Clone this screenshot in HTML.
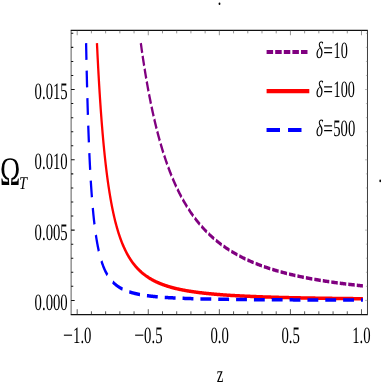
<!DOCTYPE html>
<html><head><meta charset="utf-8"><title>plot</title>
<style>html,body{margin:0;padding:0;background:#fff;}svg{display:block;}text{font-family:"Liberation Serif",serif;fill:#000;text-rendering:geometricPrecision;}</style>
</head><body>
<svg width="382" height="382" viewBox="0 0 382 382">
<rect x="0" y="0" width="382" height="382" fill="#ffffff"/>
<g transform="scale(0.648,1)">
<path d="M217.31 43.10 L217.52 44.11 L217.80 45.41 L218.08 46.70 L218.35 47.99 L218.63 49.27 L218.91 50.54 L219.19 51.81 L219.47 53.07 L219.75 54.33 L220.04 55.58 L220.32 56.82 L220.60 58.06 L220.89 59.29 L221.17 60.51 L221.46 61.73 L221.75 62.95 L222.04 64.16 L222.33 65.36 L222.62 66.55 L222.91 67.74 L223.20 68.93 L223.49 70.11 L223.78 71.28 L224.08 72.45 L224.37 73.61 L224.67 74.76 L224.96 75.91 L225.26 77.06 L225.56 78.20 L225.86 79.33 L226.16 80.46 L226.46 81.58 L226.76 82.69 L227.06 83.81 L227.36 84.91 L227.67 86.01 L227.97 87.11 L228.28 88.20 L228.58 89.28 L228.89 90.36 L229.20 91.43 L229.51 92.50 L229.82 93.56 L230.13 94.62 L230.44 95.67 L230.75 96.72 L231.07 97.76 L231.38 98.80 L231.70 99.83 L232.01 100.86 L232.33 101.88 L232.65 102.90 L232.96 103.91 L233.28 104.92 L233.60 105.92 L233.93 106.92 L234.25 107.91 L234.57 108.90 L234.90 109.88 L235.22 110.86 L235.55 111.83 L235.87 112.80 L236.20 113.76 L236.53 114.72 L236.86 115.67 L237.19 116.62 L237.52 117.57 L237.85 118.51 L238.19 119.44 L238.52 120.37 L238.86 121.30 L239.19 122.22 L239.53 123.14 L239.87 124.05 L240.21 124.96 L240.55 125.86 L240.89 126.76 L241.23 127.65 L241.57 128.54 L241.92 129.43 L242.26 130.31 L242.61 131.18 L242.95 132.06 L243.30 132.93 L243.65 133.79 L244.00 134.65 L244.35 135.50 L244.70 136.35 L245.05 137.20 L245.41 138.04 L245.76 138.88 L246.12 139.72 L246.47 140.55 L246.83 141.37 L247.19 142.19 L247.55 143.01 L247.91 143.83 L248.27 144.64 L248.63 145.44 L249.00 146.24 L249.36 147.04 L249.73 147.83 L250.09 148.62 L250.46 149.41 L250.83 150.19 L251.20 150.97 L251.57 151.74 L251.94 152.51 L252.31 153.28 L252.69 154.04 L253.06 154.80 L253.44 155.56 L253.82 156.31 L254.19 157.06 L254.57 157.80 L254.95 158.54 L255.34 159.28 L255.72 160.01 L256.10 160.74 L256.49 161.46 L256.87 162.19 L257.26 162.90 L257.65 163.62 L258.03 164.33 L258.42 165.04 L258.82 165.74 L259.21 166.44 L259.60 167.14 L260.00 167.83 L260.39 168.52 L260.79 169.21 L261.19 169.89 L261.58 170.57 L261.98 171.25 L262.38 171.92 L262.79 172.59 L263.19 173.26 L263.59 173.92 L264.00 174.58 L264.41 175.24 L264.81 175.89 L265.22 176.54 L265.63 177.19 L266.05 177.83 L266.46 178.47 L266.87 179.11 L267.29 179.74 L267.70 180.37 L268.12 181.00 L268.54 181.62 L268.96 182.24 L269.38 182.86 L269.80 183.47 L270.22 184.09 L270.65 184.69 L271.07 185.30 L271.50 185.90 L271.93 186.50 L272.36 187.10 L272.79 187.69 L273.22 188.28 L273.65 188.87 L274.08 189.45 L274.52 190.03 L274.95 190.61 L275.39 191.19 L275.83 191.76 L276.27 192.33 L276.71 192.90 L277.15 193.46 L277.60 194.02 L278.04 194.58 L278.49 195.14 L278.94 195.69 L279.38 196.24 L279.83 196.79 L280.29 197.33 L280.74 197.87 L281.19 198.41 L281.65 198.95 L282.10 199.48 L282.56 200.01 L283.02 200.54 L283.48 201.07 L283.94 201.59 L284.40 202.11 L284.87 202.63 L285.33 203.14 L285.80 203.66 L286.27 204.16 L286.74 204.67 L287.21 205.18 L287.68 205.68 L288.15 206.18 L288.63 206.67 L289.10 207.17 L289.58 207.66 L290.06 208.15 L290.54 208.64 L291.02 209.12 L291.50 209.60 L291.99 210.08 L292.47 210.56 L292.96 211.04 L293.45 211.51 L293.93 211.98 L294.43 212.44 L294.92 212.91 L295.41 213.37 L295.91 213.83 L296.40 214.29 L296.90 214.75 L297.40 215.20 L297.90 215.65 L298.40 216.10 L298.90 216.55 L299.41 216.99 L299.92 217.43 L300.42 217.87 L300.93 218.31 L301.44 218.74 L301.95 219.18 L302.47 219.61 L302.98 220.04 L303.50 220.46 L304.02 220.89 L304.54 221.31 L305.06 221.73 L305.58 222.15 L306.10 222.56 L306.63 222.98 L307.15 223.39 L307.68 223.80 L308.21 224.20 L308.74 224.61 L309.27 225.01 L309.81 225.41 L310.34 225.81 L310.88 226.21 L311.42 226.60 L311.96 227.00 L312.50 227.39 L313.04 227.78 L313.59 228.16 L314.13 228.55 L314.68 228.93 L315.23 229.31 L315.78 229.69 L316.33 230.07 L316.88 230.44 L317.44 230.81 L318.00 231.19 L318.55 231.56 L319.11 231.92 L319.68 232.29 L320.24 232.65 L320.80 233.01 L321.37 233.37 L321.94 233.73 L322.51 234.09 L323.08 234.44 L323.65 234.79 L324.22 235.15 L324.80 235.49 L325.38 235.84 L325.96 236.19 L326.54 236.53 L327.12 236.87 L327.70 237.21 L328.29 237.55 L328.88 237.89 L329.46 238.22 L330.05 238.55 L330.65 238.89 L331.24 239.22 L331.84 239.54 L332.43 239.87 L333.03 240.19 L333.63 240.52 L334.23 240.84 L334.84 241.16 L335.44 241.48 L336.05 241.79 L336.66 242.11 L337.27 242.42 L337.88 242.73 L338.50 243.04 L339.11 243.35 L339.73 243.66 L340.35 243.96 L340.97 244.26 L341.59 244.57 L342.22 244.87 L342.85 245.16 L343.47 245.46 L344.10 245.76 L344.73 246.05 L345.37 246.34 L346.00 246.63 L346.64 246.92 L347.28 247.21 L347.92 247.50 L348.56 247.78 L349.21 248.07 L349.85 248.35 L350.50 248.63 L351.15 248.91 L351.80 249.19 L352.45 249.46 L353.11 249.74 L353.77 250.01 L354.42 250.28 L355.08 250.55 L355.75 250.82 L356.41 251.09 L357.08 251.36 L357.75 251.62 L358.42 251.89 L359.09 252.15 L359.76 252.41 L360.44 252.67 L361.11 252.93 L361.79 253.18 L362.47 253.44 L363.16 253.69 L363.84 253.95 L364.53 254.20 L365.22 254.45 L365.91 254.70 L366.60 254.94 L367.30 255.19 L367.99 255.44 L368.69 255.68 L369.39 255.92 L370.10 256.16 L370.80 256.40 L371.51 256.64 L372.22 256.88 L372.93 257.11 L373.64 257.35 L374.35 257.58 L375.07 257.82 L375.79 258.05 L376.51 258.28 L377.23 258.51 L377.96 258.73 L378.68 258.96 L379.41 259.18 L380.14 259.41 L380.87 259.63 L381.61 259.85 L382.35 260.07 L383.09 260.29 L383.83 260.51 L384.57 260.73 L385.31 260.94 L386.06 261.16 L386.81 261.37 L387.56 261.59 L388.32 261.80 L389.07 262.01 L389.83 262.22 L390.59 262.43 L391.35 262.63 L392.12 262.84 L392.88 263.04 L393.65 263.25 L394.42 263.45 L395.19 263.65 L395.97 263.85 L396.75 264.05 L397.53 264.25 L398.31 264.45 L399.09 264.64 L399.88 264.84 L400.67 265.03 L401.46 265.23 L402.25 265.42 L403.04 265.61 L403.84 265.80 L404.64 265.99 L405.44 266.18 L406.25 266.37 L407.05 266.55 L407.86 266.74 L408.67 266.92 L409.48 267.11 L410.30 267.29 L411.12 267.47 L411.94 267.65 L412.76 267.83 L413.58 268.01 L414.41 268.18 L415.24 268.36 L416.07 268.54 L416.90 268.71 L417.74 268.89 L418.58 269.06 L419.42 269.23 L420.26 269.40 L421.11 269.57 L421.95 269.74 L422.80 269.91 L423.66 270.08 L424.51 270.24 L425.37 270.41 L426.23 270.58 L427.09 270.74 L427.96 270.90 L428.82 271.06 L429.69 271.23 L430.56 271.39 L431.44 271.55 L432.31 271.70 L433.19 271.86 L434.08 272.02 L434.96 272.18 L435.85 272.33 L436.74 272.49 L437.63 272.64 L438.52 272.79 L439.42 272.95 L440.32 273.10 L441.22 273.25 L442.12 273.40 L443.03 273.55 L443.94 273.69 L444.85 273.84 L445.77 273.99 L446.68 274.13 L447.60 274.28 L448.52 274.42 L449.45 274.57 L450.38 274.71 L451.31 274.85 L452.24 274.99 L453.17 275.13 L454.11 275.27 L455.05 275.41 L456.00 275.55 L456.94 275.69 L457.89 275.83 L458.84 275.96 L459.79 276.10 L460.75 276.23 L461.71 276.37 L462.67 276.50 L463.64 276.63 L464.60 276.76 L465.57 276.89 L466.55 277.02 L467.52 277.15 L468.50 277.28 L469.48 277.41 L470.46 277.54 L471.45 277.67 L472.44 277.79 L473.43 277.92 L474.43 278.04 L475.42 278.17 L476.42 278.29 L477.43 278.41 L478.43 278.53 L479.44 278.66 L480.45 278.78 L481.47 278.90 L482.48 279.02 L483.50 279.14 L484.53 279.25 L485.55 279.37 L486.58 279.49 L487.61 279.61 L488.65 279.72 L489.69 279.84 L490.73 279.95 L491.77 280.06 L492.82 280.18 L493.86 280.29 L494.92 280.40 L495.97 280.51 L497.03 280.62 L498.09 280.74 L499.15 280.84 L500.22 280.95 L501.29 281.06 L502.36 281.17 L503.44 281.28 L504.52 281.38 L505.60 281.49 L506.69 281.60 L507.77 281.70 L508.86 281.81 L509.96 281.91 L511.06 282.01 L512.16 282.12 L513.26 282.22 L514.37 282.32 L515.48 282.42 L516.59 282.52 L517.70 282.62 L518.82 282.72 L519.95 282.82 L521.07 282.92 L522.20 283.02 L523.33 283.11 L524.47 283.21 L525.60 283.31 L526.74 283.40 L527.89 283.50 L529.04 283.59 L530.19 283.69 L531.34 283.78 L532.50 283.87 L533.66 283.97 L534.82 284.06 L535.99 284.15 L537.16 284.24 L538.33 284.33 L539.51 284.42 L540.69 284.51 L541.87 284.60 L543.06 284.69 L544.25 284.78 L545.44 284.87 L546.64 284.95 L547.84 285.04 L549.05 285.13 L550.25 285.21 L551.46 285.30 L552.68 285.38 L553.89 285.47 L555.11 285.55 L556.34 285.64 L557.57 285.72 L558.80 285.80 L560.03 285.88" fill="none" stroke="#800080" stroke-width="3.5" stroke-linejoin="round" stroke-dasharray="10.05 3.1"/>
<path d="M149.62 43.10 L149.76 45.10 L149.92 47.16 L150.07 49.21 L150.22 51.24 L150.37 53.26 L150.53 55.27 L150.68 57.26 L150.83 59.24 L150.99 61.21 L151.15 63.16 L151.30 65.11 L151.46 67.03 L151.62 68.95 L151.78 70.85 L151.94 72.74 L152.10 74.62 L152.27 76.49 L152.43 78.34 L152.59 80.18 L152.76 82.01 L152.92 83.82 L153.09 85.62 L153.26 87.41 L153.42 89.19 L153.59 90.96 L153.76 92.71 L153.93 94.45 L154.10 96.18 L154.27 97.90 L154.45 99.60 L154.62 101.29 L154.80 102.97 L154.97 104.64 L155.15 106.30 L155.32 107.95 L155.50 109.58 L155.68 111.20 L155.86 112.81 L156.04 114.41 L156.22 116.00 L156.41 117.57 L156.59 119.14 L156.77 120.69 L156.96 122.23 L157.14 123.76 L157.33 125.28 L157.52 126.79 L157.71 128.29 L157.90 129.77 L158.09 131.25 L158.28 132.71 L158.47 134.16 L158.67 135.61 L158.86 137.04 L159.06 138.46 L159.25 139.87 L159.45 141.27 L159.65 142.66 L159.85 144.03 L160.05 145.40 L160.25 146.76 L160.45 148.11 L160.65 149.44 L160.86 150.77 L161.06 152.09 L161.27 153.39 L161.48 154.69 L161.68 155.98 L161.89 157.25 L162.10 158.52 L162.32 159.78 L162.53 161.03 L162.74 162.26 L162.96 163.49 L163.17 164.71 L163.39 165.92 L163.61 167.12 L163.82 168.31 L164.04 169.49 L164.26 170.66 L164.49 171.82 L164.71 172.97 L164.93 174.12 L165.16 175.25 L165.39 176.37 L165.61 177.49 L165.84 178.60 L166.07 179.70 L166.30 180.79 L166.53 181.87 L166.77 182.94 L167.00 184.00 L167.24 185.06 L167.47 186.10 L167.71 187.14 L167.95 188.17 L168.19 189.19 L168.43 190.20 L168.67 191.21 L168.92 192.20 L169.16 193.19 L169.41 194.17 L169.66 195.14 L169.90 196.11 L170.15 197.06 L170.40 198.01 L170.66 198.95 L170.91 199.88 L171.16 200.81 L171.42 201.72 L171.68 202.63 L171.94 203.53 L172.20 204.43 L172.46 205.31 L172.72 206.19 L172.98 207.06 L173.25 207.92 L173.51 208.78 L173.78 209.63 L174.05 210.47 L174.32 211.31 L174.59 212.14 L174.86 212.96 L175.14 213.77 L175.41 214.58 L175.69 215.38 L175.97 216.17 L176.25 216.96 L176.53 217.74 L176.81 218.51 L177.10 219.27 L177.38 220.03 L177.67 220.79 L177.95 221.53 L178.24 222.27 L178.53 223.01 L178.83 223.73 L179.12 224.45 L179.42 225.17 L179.71 225.88 L180.01 226.58 L180.31 227.27 L180.61 227.96 L180.91 228.65 L181.22 229.33 L181.52 230.00 L181.83 230.66 L182.14 231.32 L182.45 231.98 L182.76 232.63 L183.07 233.27 L183.39 233.90 L183.70 234.54 L184.02 235.16 L184.34 235.78 L184.66 236.40 L184.98 237.01 L185.30 237.61 L185.63 238.21 L185.96 238.80 L186.29 239.39 L186.62 239.97 L186.95 240.55 L187.28 241.12 L187.62 241.68 L187.95 242.25 L188.29 242.80 L188.63 243.35 L188.97 243.90 L189.32 244.44 L189.66 244.98 L190.01 245.51 L190.36 246.04 L190.71 246.56 L191.06 247.07 L191.41 247.59 L191.77 248.09 L192.13 248.60 L192.49 249.10 L192.85 249.59 L193.21 250.08 L193.57 250.56 L193.94 251.04 L194.31 251.52 L194.68 251.99 L195.05 252.46 L195.42 252.92 L195.80 253.38 L196.17 253.84 L196.55 254.29 L196.93 254.73 L197.32 255.17 L197.70 255.61 L198.09 256.04 L198.48 256.47 L198.87 256.90 L199.26 257.32 L199.65 257.74 L200.05 258.15 L200.45 258.56 L200.85 258.97 L201.25 259.37 L201.65 259.77 L202.06 260.17 L202.47 260.56 L202.87 260.94 L203.29 261.33 L203.70 261.71 L204.12 262.08 L204.53 262.46 L204.95 262.83 L205.38 263.19 L205.80 263.56 L206.23 263.91 L206.66 264.27 L207.09 264.62 L207.52 264.97 L207.95 265.32 L208.39 265.66 L208.83 266.00 L209.27 266.33 L209.71 266.67 L210.16 267.00 L210.61 267.32 L211.06 267.65 L211.51 267.97 L211.96 268.28 L212.42 268.60 L212.88 268.91 L213.34 269.22 L213.80 269.52 L214.27 269.82 L214.74 270.12 L215.21 270.42 L215.68 270.71 L216.15 271.00 L216.63 271.29 L217.11 271.58 L217.59 271.86 L218.08 272.14 L218.56 272.42 L219.05 272.69 L219.54 272.96 L220.04 273.23 L220.53 273.50 L221.03 273.76 L221.53 274.02 L222.04 274.28 L222.54 274.54 L223.05 274.79 L223.56 275.04 L224.08 275.29 L224.59 275.54 L225.11 275.78 L225.63 276.02 L226.16 276.26 L226.68 276.50 L227.21 276.73 L227.74 276.97 L228.28 277.20 L228.81 277.42 L229.35 277.65 L229.90 277.87 L230.44 278.09 L230.99 278.31 L231.54 278.53 L232.09 278.74 L232.65 278.96 L233.20 279.17 L233.77 279.38 L234.33 279.58 L234.90 279.79 L235.46 279.99 L236.04 280.19 L236.61 280.39 L237.19 280.58 L237.77 280.78 L238.35 280.97 L238.94 281.16 L239.53 281.35 L240.12 281.54 L240.72 281.72 L241.31 281.91 L241.92 282.09 L242.52 282.27 L243.13 282.44 L243.74 282.62 L244.35 282.79 L244.96 282.97 L245.58 283.14 L246.21 283.31 L246.83 283.48 L247.46 283.64 L248.09 283.81 L248.72 283.97 L249.36 284.13 L250.00 284.29 L250.65 284.45 L251.29 284.60 L251.94 284.76 L252.59 284.91 L253.25 285.06 L253.91 285.21 L254.57 285.36 L255.24 285.51 L255.91 285.65 L256.58 285.80 L257.26 285.94 L257.94 286.08 L258.62 286.22 L259.31 286.36 L260.00 286.50 L260.69 286.63 L261.38 286.77 L262.08 286.90 L262.79 287.03 L263.49 287.16 L264.20 287.29 L264.92 287.42 L265.63 287.55 L266.35 287.67 L267.08 287.80 L267.81 287.92 L268.54 288.04 L269.27 288.16 L270.01 288.28 L270.75 288.40 L271.50 288.51 L272.25 288.63 L273.00 288.74 L273.76 288.86 L274.52 288.97 L275.28 289.08 L276.05 289.19 L276.82 289.30 L277.60 289.41 L278.38 289.51 L279.16 289.62 L279.95 289.72 L280.74 289.83 L281.53 289.93 L282.33 290.03 L283.13 290.13 L283.94 290.23 L284.75 290.33 L285.57 290.43 L286.38 290.52 L287.21 290.62 L288.03 290.71 L288.86 290.81 L289.70 290.90 L290.54 290.99 L291.38 291.08 L292.23 291.17 L293.08 291.26 L293.93 291.35 L294.79 291.43 L295.66 291.52 L296.53 291.61 L297.40 291.69 L298.28 291.77 L299.16 291.86 L300.04 291.94 L300.93 292.02 L301.83 292.10 L302.72 292.18 L303.63 292.26 L304.54 292.34 L305.45 292.41 L306.36 292.49 L307.28 292.57 L308.21 292.64 L309.14 292.71 L310.07 292.79 L311.01 292.86 L311.96 292.93 L312.90 293.00 L313.86 293.07 L314.82 293.14 L315.78 293.21 L316.75 293.28 L317.72 293.35 L318.69 293.41 L319.68 293.48 L320.66 293.55 L321.65 293.61 L322.65 293.68 L323.65 293.74 L324.66 293.80 L325.67 293.86 L326.68 293.93 L327.70 293.99 L328.73 294.05 L329.76 294.11 L330.80 294.17 L331.84 294.23 L332.88 294.28 L333.93 294.34 L334.99 294.40 L336.05 294.45 L337.12 294.51 L338.19 294.57 L339.27 294.62 L340.35 294.67 L341.44 294.73 L342.53 294.78 L343.63 294.83 L344.73 294.88 L345.84 294.94 L346.96 294.99 L348.08 295.04 L349.21 295.09 L350.34 295.14 L351.47 295.19 L352.62 295.23 L353.77 295.28 L354.92 295.33 L356.08 295.38 L357.24 295.42 L358.42 295.47 L359.59 295.51 L360.78 295.56 L361.96 295.60 L363.16 295.65 L364.36 295.69 L365.56 295.74 L366.78 295.78 L367.99 295.82 L369.22 295.86 L370.45 295.90 L371.68 295.95 L372.93 295.99 L374.17 296.03 L375.43 296.07 L376.69 296.11 L377.96 296.15 L379.23 296.18 L380.51 296.22 L381.79 296.26 L383.09 296.30 L384.38 296.33 L385.69 296.37 L387.00 296.41 L388.32 296.44 L389.64 296.48 L390.97 296.52 L392.31 296.55 L393.65 296.59 L395.00 296.62 L396.36 296.65 L397.72 296.69 L399.09 296.72 L400.47 296.75 L401.85 296.79 L403.24 296.82 L404.64 296.85 L406.04 296.88 L407.46 296.91 L408.87 296.94 L410.30 296.98 L411.73 297.01 L413.17 297.04 L414.62 297.07 L416.07 297.10 L417.53 297.12 L419.00 297.15 L420.47 297.18 L421.95 297.21 L423.44 297.24 L424.94 297.27 L426.44 297.29 L427.96 297.32 L429.47 297.35 L431.00 297.38 L432.53 297.40 L434.08 297.43 L435.62 297.45 L437.18 297.48 L438.75 297.51 L440.32 297.53 L441.90 297.56 L443.48 297.58 L445.08 297.60 L446.68 297.63 L448.29 297.65 L449.91 297.68 L451.54 297.70 L453.17 297.72 L454.82 297.75 L456.47 297.77 L458.13 297.79 L459.79 297.81 L461.47 297.84 L463.15 297.86 L464.85 297.88 L466.55 297.90 L468.25 297.92 L469.97 297.94 L471.70 297.96 L473.43 297.98 L475.17 298.01 L476.92 298.03 L478.68 298.05 L480.45 298.07 L482.23 298.09 L484.02 298.10 L485.81 298.12 L487.61 298.14 L489.43 298.16 L491.25 298.18 L493.08 298.20 L494.92 298.22 L496.76 298.24 L498.62 298.25 L500.49 298.27 L502.36 298.29 L504.25 298.31 L506.14 298.32 L508.05 298.34 L509.96 298.36 L511.88 298.37 L513.81 298.39 L515.75 298.41 L517.70 298.42 L519.66 298.44 L521.63 298.46 L523.61 298.47 L525.60 298.49 L527.60 298.50 L529.61 298.52 L531.63 298.53 L533.66 298.55 L535.70 298.56 L537.75 298.58 L539.81 298.59 L541.87 298.61 L543.95 298.62 L546.04 298.64 L548.14 298.65 L550.25 298.66 L552.37 298.68 L554.50 298.69 L556.64 298.71 L558.80 298.72 L560.03 298.73" fill="none" stroke="#ff0000" stroke-width="3.5" stroke-linejoin="round"/>
<path d="M132.87 43.10 L132.95 45.82 L133.04 48.62 L133.13 51.39 L133.21 54.14 L133.30 56.85 L133.39 59.55 L133.48 62.21 L133.57 64.85 L133.67 67.46 L133.76 70.04 L133.85 72.60 L133.94 75.13 L134.04 77.64 L134.13 80.12 L134.23 82.58 L134.32 85.01 L134.42 87.41 L134.51 89.80 L134.61 92.15 L134.71 94.49 L134.81 96.80 L134.91 99.08 L135.01 101.34 L135.11 103.58 L135.21 105.80 L135.31 107.99 L135.41 110.16 L135.52 112.31 L135.62 114.44 L135.72 116.54 L135.83 118.62 L135.93 120.68 L136.04 122.72 L136.15 124.74 L136.25 126.73 L136.36 128.71 L136.47 130.66 L136.58 132.60 L136.69 134.51 L136.80 136.40 L136.92 138.28 L137.03 140.13 L137.14 141.97 L137.25 143.78 L137.37 145.58 L137.49 147.35 L137.60 149.11 L137.72 150.85 L137.84 152.57 L137.95 154.27 L138.07 155.95 L138.19 157.62 L138.31 159.27 L138.43 160.90 L138.56 162.51 L138.68 164.11 L138.80 165.68 L138.93 167.24 L139.05 168.79 L139.18 170.32 L139.31 171.83 L139.43 173.32 L139.56 174.80 L139.69 176.26 L139.82 177.71 L139.95 179.14 L140.08 180.56 L140.22 181.96 L140.35 183.34 L140.48 184.71 L140.62 186.06 L140.76 187.40 L140.89 188.73 L141.03 190.04 L141.17 191.33 L141.31 192.61 L141.45 193.88 L141.59 195.14 L141.73 196.37 L141.87 197.60 L142.02 198.81 L142.16 200.01 L142.31 201.20 L142.46 202.37 L142.60 203.53 L142.75 204.67 L142.90 205.81 L143.05 206.93 L143.20 208.04 L143.35 209.13 L143.51 210.22 L143.66 211.29 L143.82 212.35 L143.97 213.39 L144.13 214.43 L144.29 215.45 L144.45 216.47 L144.61 217.47 L144.77 218.46 L144.93 219.44 L145.09 220.40 L145.26 221.36 L145.42 222.31 L145.59 223.24 L145.76 224.17 L145.93 225.08 L146.10 225.98 L146.27 226.88 L146.44 227.76 L146.61 228.63 L146.79 229.49 L146.96 230.35 L147.14 231.19 L147.31 232.02 L147.49 232.85 L147.67 233.66 L147.85 234.47 L148.03 235.26 L148.22 236.05 L148.40 236.83 L148.59 237.60 L148.77 238.36 L148.96 239.11 L149.15 239.85 L149.34 240.58 L149.53 241.31 L149.72 242.03 L149.92 242.73 L150.11 243.44 L150.31 244.13 L150.50 244.81 L150.70 245.49 L150.90 246.16 L151.10 246.82 L151.30 247.47 L151.51 248.11 L151.71 248.75 L151.92 249.38 L152.13 250.00 L152.34 250.62 L152.55 251.23 L152.76 251.83 L152.97 252.42 L153.18 253.01 L153.40 253.59 L153.62 254.16 L153.83 254.73 L154.05 255.29 L154.27 255.84 L154.50 256.39 L154.72 256.93 L154.95 257.46 L155.17 257.99 L155.40 258.51 L155.63 259.03 L155.86 259.54 L156.09 260.04 L156.33 260.54 L156.56 261.03 L156.80 261.51 L157.04 261.99 L157.28 262.47 L157.52 262.93 L157.76 263.40 L158.01 263.85 L158.25 264.30 L158.50 264.75 L158.75 265.19 L159.00 265.63 L159.25 266.06 L159.51 266.48 L159.76 266.90 L160.02 267.32 L160.28 267.73 L160.54 268.13 L160.80 268.53 L161.06 268.93 L161.33 269.32 L161.60 269.70 L161.86 270.08 L162.13 270.46 L162.41 270.83 L162.68 271.20 L162.96 271.56 L163.23 271.92 L163.51 272.28 L163.79 272.63 L164.08 272.97 L164.36 273.31 L164.65 273.65 L164.93 273.98 L165.22 274.31 L165.52 274.64 L165.81 274.96 L166.10 275.28 L166.40 275.59 L166.70 275.90 L167.00 276.21 L167.30 276.51 L167.61 276.81 L167.92 277.10 L168.22 277.39 L168.54 277.68 L168.85 277.96 L169.16 278.25 L169.48 278.52 L169.80 278.80 L170.12 279.07 L170.44 279.33 L170.77 279.60 L171.09 279.86 L171.42 280.12 L171.75 280.37 L172.08 280.62 L172.42 280.87 L172.76 281.11 L173.10 281.36 L173.44 281.60 L173.78 281.83 L174.13 282.06 L174.48 282.29 L174.83 282.52 L175.18 282.75 L175.53 282.97 L175.89 283.19 L176.25 283.40 L176.61 283.62 L176.97 283.83 L177.34 284.04 L177.71 284.24 L178.08 284.45 L178.45 284.65 L178.83 284.85 L179.20 285.04 L179.58 285.23 L179.97 285.43 L180.35 285.61 L180.74 285.80 L181.13 285.98 L181.52 286.17 L181.92 286.34 L182.31 286.52 L182.71 286.70 L183.12 286.87 L183.52 287.04 L183.93 287.21 L184.34 287.37 L184.75 287.54 L185.17 287.70 L185.58 287.86 L186.00 288.02 L186.43 288.18 L186.85 288.33 L187.28 288.48 L187.71 288.63 L188.15 288.78 L188.58 288.93 L189.02 289.07 L189.46 289.22 L189.91 289.36 L190.36 289.50 L190.81 289.63 L191.26 289.77 L191.72 289.90 L192.18 290.04 L192.64 290.17 L193.11 290.30 L193.57 290.42 L194.04 290.55 L194.52 290.68 L195.00 290.80 L195.48 290.92 L195.96 291.04 L196.44 291.16 L196.93 291.27 L197.43 291.39 L197.92 291.50 L198.42 291.62 L198.92 291.73 L199.43 291.84 L199.93 291.94 L200.45 292.05 L200.96 292.16 L201.48 292.26 L202.00 292.36 L202.52 292.47 L203.05 292.57 L203.58 292.66 L204.12 292.76 L204.65 292.86 L205.20 292.95 L205.74 293.05 L206.29 293.14 L206.84 293.23 L207.39 293.32 L207.95 293.41 L208.52 293.50 L209.08 293.59 L209.65 293.67 L210.22 293.76 L210.80 293.84 L211.38 293.93 L211.96 294.01 L212.55 294.09 L213.14 294.17 L213.74 294.25 L214.33 294.32 L214.94 294.40 L215.54 294.48 L216.15 294.55 L216.77 294.63 L217.39 294.70 L218.01 294.77 L218.63 294.84 L219.26 294.91 L219.90 294.98 L220.53 295.05 L221.17 295.12 L221.82 295.18 L222.47 295.25 L223.12 295.31 L223.78 295.38 L224.44 295.44 L225.11 295.50 L225.78 295.57 L226.46 295.63 L227.14 295.69 L227.82 295.75 L228.51 295.80 L229.20 295.86 L229.90 295.92 L230.60 295.98 L231.30 296.03 L232.01 296.09 L232.73 296.14 L233.44 296.19 L234.17 296.25 L234.90 296.30 L235.63 296.35 L236.37 296.40 L237.11 296.45 L237.85 296.50 L238.60 296.55 L239.36 296.60 L240.12 296.65 L240.89 296.69 L241.66 296.74 L242.43 296.79 L243.21 296.83 L244.00 296.88 L244.79 296.92 L245.58 296.96 L246.38 297.01 L247.19 297.05 L248.00 297.09 L248.81 297.13 L249.64 297.17 L250.46 297.22 L251.29 297.25 L252.13 297.29 L252.97 297.33 L253.82 297.37 L254.67 297.41 L255.53 297.45 L256.39 297.48 L257.26 297.52 L258.13 297.56 L259.01 297.59 L259.90 297.63 L260.79 297.66 L261.68 297.70 L262.59 297.73 L263.49 297.76 L264.41 297.80 L265.33 297.83 L266.25 297.86 L267.18 297.89 L268.12 297.92 L269.06 297.95 L270.01 297.98 L270.97 298.01 L271.93 298.04 L272.89 298.07 L273.87 298.10 L274.85 298.13 L275.83 298.16 L276.82 298.19 L277.82 298.21 L278.82 298.24 L279.83 298.27 L280.85 298.29 L281.87 298.32 L282.90 298.35 L283.94 298.37 L284.98 298.40 L286.03 298.42 L287.09 298.45 L288.15 298.47 L289.22 298.49 L290.30 298.52 L291.38 298.54 L292.47 298.56 L293.57 298.59 L294.67 298.61 L295.78 298.63 L296.90 298.65 L298.02 298.67 L299.16 298.70 L300.30 298.72 L301.44 298.74 L302.60 298.76 L303.76 298.78 L304.93 298.80 L306.10 298.82 L307.28 298.84 L308.47 298.86 L309.67 298.88 L310.88 298.89 L312.09 298.91 L313.31 298.93 L314.54 298.95 L315.78 298.97 L317.02 298.98 L318.27 299.00 L319.53 299.02 L320.80 299.04 L322.08 299.05 L323.36 299.07 L324.66 299.08 L325.96 299.10 L327.26 299.12 L328.58 299.13 L329.91 299.15 L331.24 299.16 L332.58 299.18 L333.93 299.19 L335.29 299.21 L336.66 299.22 L338.04 299.24 L339.42 299.25 L340.82 299.26 L342.22 299.28 L343.63 299.29 L345.05 299.31 L346.48 299.32 L347.92 299.33 L349.37 299.34 L350.82 299.36 L352.29 299.37 L353.77 299.38 L355.25 299.39 L356.74 299.41 L358.25 299.42 L359.76 299.43 L361.28 299.44 L362.82 299.45 L364.36 299.46 L365.91 299.48 L367.47 299.49 L369.04 299.50 L370.62 299.51 L372.22 299.52 L373.82 299.53 L375.43 299.54 L377.05 299.55 L378.68 299.56 L380.32 299.57 L381.98 299.58 L383.64 299.59 L385.31 299.60 L387.00 299.61 L388.69 299.62 L390.40 299.63 L392.12 299.64 L393.84 299.65 L395.58 299.66 L397.33 299.66 L399.09 299.67 L400.86 299.68 L402.65 299.69 L404.44 299.70 L406.25 299.71 L408.06 299.72 L409.89 299.72 L411.73 299.73 L413.58 299.74 L415.45 299.75 L417.32 299.75 L419.21 299.76 L421.11 299.77 L423.02 299.78 L424.94 299.78 L426.87 299.79 L428.82 299.80 L430.78 299.81 L432.75 299.81 L434.74 299.82 L436.74 299.83 L438.75 299.83 L440.77 299.84 L442.80 299.85 L444.85 299.85 L446.91 299.86 L448.99 299.87 L451.07 299.87 L453.17 299.88 L455.29 299.88 L457.42 299.89 L459.56 299.90 L461.71 299.90 L463.88 299.91 L466.06 299.91 L468.25 299.92 L470.46 299.92 L472.69 299.93 L474.92 299.94 L477.18 299.94 L479.44 299.95 L481.72 299.95 L484.02 299.96 L486.32 299.96 L488.65 299.97 L490.99 299.97 L493.34 299.98 L495.71 299.98 L498.09 299.99 L500.49 299.99 L502.90 300.00 L505.33 300.00 L507.77 300.00 L510.23 300.01 L512.71 300.01 L515.20 300.02 L517.70 300.02 L520.23 300.03 L522.76 300.03 L525.32 300.03 L527.89 300.04 L530.48 300.04 L533.08 300.05 L535.70 300.05 L538.33 300.05 L540.99 300.06 L543.66 300.06 L546.34 300.07 L549.05 300.07 L551.77 300.07 L554.50 300.08 L557.26 300.08 L560.03 300.08" fill="none" stroke="#0000ff" stroke-width="3.5" stroke-linejoin="round" stroke-dasharray="16.75 10.78"/>
<path d="M109.72 30.40 V314.60" fill="none" stroke="#444" stroke-width="1.35"/>
<path d="M566.98 30.40 V314.60" fill="none" stroke="#1a1a1a" stroke-width="1.3"/>
<path d="M109.12 30.40 H567.58" fill="none" stroke="#111" stroke-width="1.15"/>
<path d="M109.12 314.60 H567.58" fill="none" stroke="#111" stroke-width="1.25"/>
<path d="M109.72 300.40 h5.50 M109.72 286.34 h3.36 M109.72 272.28 h3.36 M109.72 258.23 h3.36 M109.72 244.17 h3.36 M109.72 230.11 h5.50 M109.72 216.05 h3.36 M109.72 201.99 h3.36 M109.72 187.94 h3.36 M109.72 173.88 h3.36 M109.72 159.82 h5.50 M109.72 145.76 h3.36 M109.72 131.70 h3.36 M109.72 117.65 h3.36 M109.72 103.59 h3.36 M109.72 89.53 h5.50 M109.72 75.47 h3.36 M109.72 61.41 h3.36 M109.72 47.36 h3.36 M109.72 33.30 h3.36" fill="none" stroke="#111" stroke-width="1.05"/>
<path d="M566.98 300.40 h-3.75 M566.98 286.34 h-2.29 M566.98 272.28 h-2.29 M566.98 258.23 h-2.29 M566.98 244.17 h-2.29 M566.98 230.11 h-3.75 M566.98 216.05 h-2.29 M566.98 201.99 h-2.29 M566.98 187.94 h-2.29 M566.98 173.88 h-2.29 M566.98 159.82 h-3.75 M566.98 145.76 h-2.29 M566.98 131.70 h-2.29 M566.98 117.65 h-2.29 M566.98 103.59 h-2.29 M566.98 89.53 h-3.75 M566.98 75.47 h-2.29 M566.98 61.41 h-2.29 M566.98 47.36 h-2.29 M566.98 33.30 h-2.29" fill="none" stroke="#777" stroke-width="0.6"/>
<path d="M119.14 314.60 v-5.40 M141.07 314.60 v-3.30 M163.01 314.60 v-3.30 M184.95 314.60 v-3.30 M206.88 314.60 v-3.30 M228.82 314.60 v-5.40 M250.76 314.60 v-3.30 M272.69 314.60 v-3.30 M294.63 314.60 v-3.30 M316.57 314.60 v-3.30 M338.50 314.60 v-5.40 M360.44 314.60 v-3.30 M382.38 314.60 v-3.30 M404.31 314.60 v-3.30 M426.25 314.60 v-3.30 M448.19 314.60 v-5.40 M470.12 314.60 v-3.30 M492.06 314.60 v-3.30 M514.00 314.60 v-3.30 M535.93 314.60 v-3.30 M557.87 314.60 v-5.40" fill="none" stroke="#222" stroke-width="0.9"/>
<path d="M119.14 30.40 v4.86 M141.07 30.40 v2.97 M163.01 30.40 v2.97 M184.95 30.40 v2.97 M206.88 30.40 v2.97 M228.82 30.40 v4.86 M250.76 30.40 v2.97 M272.69 30.40 v2.97 M294.63 30.40 v2.97 M316.57 30.40 v2.97 M338.50 30.40 v4.86 M360.44 30.40 v2.97 M382.38 30.40 v2.97 M404.31 30.40 v2.97 M426.25 30.40 v2.97 M448.19 30.40 v4.86 M470.12 30.40 v2.97 M492.06 30.40 v2.97 M514.00 30.40 v2.97 M535.93 30.40 v2.97 M557.87 30.40 v4.86" fill="none" stroke="#444" stroke-width="0.7"/>
<ellipse cx="338.73" cy="3.70" rx="1.40" ry="1.30" fill="#000"/>
<ellipse cx="586.73" cy="180.90" rx="1.30" ry="1.30" fill="#000"/>
<path d="M411.42 52.00 H475.00" stroke="#800080" stroke-width="4.2" stroke-dasharray="10.03 3.24" fill="none"/>
<path d="M411.42 91.20 H477.31" stroke="#ff0000" stroke-width="4.2" fill="none"/>
<path d="M411.34 130.00 H465.90" stroke="#0000ff" stroke-width="4.2" stroke-dasharray="20.76 12.42" fill="none"/>
</g>
<g style="opacity:0.999">
<text transform="translate(63.10 343.10) scale(0.7500 1)" font-size="23.5" text-anchor="start">−</text>
<text transform="translate(73.04 343.10) scale(0.6280 1)" font-size="23.5" text-anchor="start">1.0</text>
<text transform="translate(134.18 343.10) scale(0.7500 1)" font-size="23.5" text-anchor="start">−</text>
<text transform="translate(144.12 343.10) scale(0.6280 1)" font-size="23.5" text-anchor="start">0.5</text>
<text transform="translate(210.38 343.10) scale(0.6280 1)" font-size="23.5" text-anchor="start">0.0</text>
<text transform="translate(281.46 343.10) scale(0.6280 1)" font-size="23.5" text-anchor="start">0.5</text>
<text transform="translate(352.16 343.10) scale(0.6280 1)" font-size="23.5" text-anchor="start">1.0</text>
<text transform="translate(67.70 310.00) scale(0.6260 1)" font-size="23.5" text-anchor="end">0.000</text>
<text transform="translate(67.70 239.71) scale(0.6260 1)" font-size="23.5" text-anchor="end">0.005</text>
<text transform="translate(67.70 169.42) scale(0.6260 1)" font-size="23.5" text-anchor="end">0.010</text>
<text transform="translate(67.70 99.13) scale(0.6260 1)" font-size="23.5" text-anchor="end">0.015</text>
<text transform="translate(220.00 381.80) scale(0.6350 1)" font-size="23.5" text-anchor="middle">z</text>
<text transform="translate(0.00 185.30) scale(0.6730 1)" font-size="40.5" text-anchor="start">Ω</text>
<text transform="translate(18.90 188.80) scale(0.8100 1)" font-size="18" text-anchor="start" font-style="italic">T</text>
<text transform="translate(315.90 57.65) scale(0.6350 1)" font-size="23.5" text-anchor="start" font-style="italic">δ</text>
<text transform="translate(323.15 57.65) scale(0.7300 1)" font-size="23.5" text-anchor="start">=</text>
<text transform="translate(333.55 57.65) scale(0.6050 1)" font-size="23.5" text-anchor="start">10</text>
<text transform="translate(315.90 97.00) scale(0.6350 1)" font-size="23.5" text-anchor="start" font-style="italic">δ</text>
<text transform="translate(323.15 97.00) scale(0.7300 1)" font-size="23.5" text-anchor="start">=</text>
<text transform="translate(333.55 97.00) scale(0.6050 1)" font-size="23.5" text-anchor="start">100</text>
<text transform="translate(315.90 136.30) scale(0.6350 1)" font-size="23.5" text-anchor="start" font-style="italic">δ</text>
<text transform="translate(323.15 136.30) scale(0.7300 1)" font-size="23.5" text-anchor="start">=</text>
<text transform="translate(333.20 136.30) scale(0.6250 1)" font-size="23.5" text-anchor="start">500</text>
</g>
</svg></body></html>
